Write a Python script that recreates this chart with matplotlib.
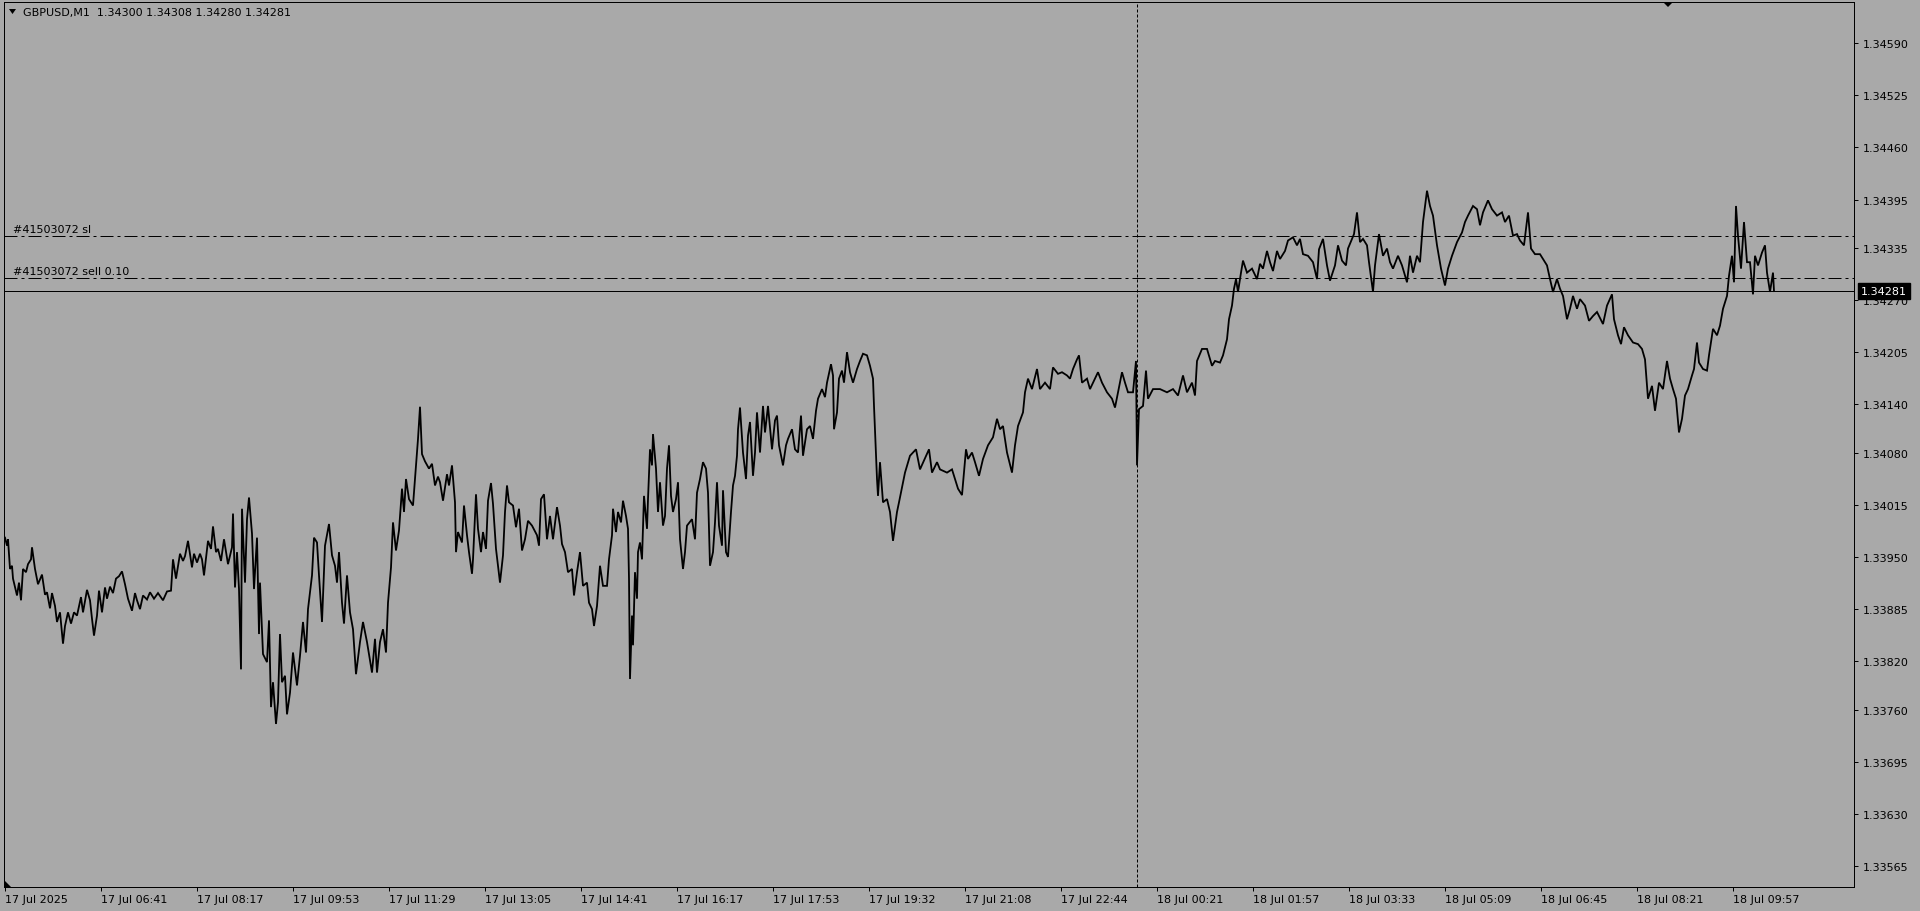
import matplotlib
matplotlib.use("Agg")
import matplotlib.pyplot as plt
from matplotlib.patches import Polygon

# ---------------- data (bar index = minutes of M1 bars from the first visible bar) ----------------
symbol = "GBPUSD,M1"
ohlc_text = ["1.34300", "1.34308", "1.34280", "1.34281"]
order_id = "#41503072"
sl_price = 1.34350
entry_price = 1.34297
last_price = 1.34281
day_separator_bar = 1132

time_tick_bars = [0, 96, 192, 288, 384, 480, 576, 672, 768, 864, 960, 1056,
                  1152, 1248, 1344, 1440, 1536, 1632, 1728]
time_tick_labels = ["17 Jul 2025", "17 Jul 06:41", "17 Jul 08:17", "17 Jul 09:53",
                    "17 Jul 11:29", "17 Jul 13:05", "17 Jul 14:41", "17 Jul 16:17",
                    "17 Jul 17:53", "17 Jul 19:32", "17 Jul 21:08", "17 Jul 22:44",
                    "18 Jul 00:21", "18 Jul 01:57", "18 Jul 03:33", "18 Jul 05:09",
                    "18 Jul 06:45", "18 Jul 08:21", "18 Jul 09:57"]
price_ticks = [1.34590, 1.34525, 1.34460, 1.34395, 1.34335, 1.34270, 1.34205,
               1.34140, 1.34080, 1.34015, 1.33950, 1.33885, 1.33820, 1.33760,
               1.33695, 1.33630, 1.33565]
price_tick_labels = ["%.5f" % p for p in price_ticks]

path_17jul_morning = [
    (0, 1.33974), (2, 1.33964), (3, 1.33972), (5, 1.33935), (7, 1.33939), (8, 1.33923),
    (12, 1.33902), (14, 1.33918), (16, 1.33896), (18, 1.33935), (21, 1.33931), (23, 1.33941),
    (26, 1.33947), (27, 1.33962), (30, 1.33935), (33, 1.33916), (37, 1.33928), (40, 1.33903),
    (42, 1.33906), (45, 1.33886), (47, 1.33905), (50, 1.33889), (52, 1.33869), (55, 1.33881),
    (58, 1.33842), (60, 1.33864), (63, 1.33881), (66, 1.33867), (69, 1.33881), (72, 1.33877),
    (76, 1.33900), (78, 1.33881), (82, 1.33909), (85, 1.33896), (87, 1.33873), (89, 1.33852),
    (92, 1.33877), (94, 1.33908), (97, 1.33881), (100, 1.33912), (102, 1.33898), (105, 1.33913),
    (108, 1.33905), (111, 1.33923), (114, 1.33926), (117, 1.33932), (120, 1.33916), (123, 1.33898),
    (127, 1.33883), (130, 1.33905), (132, 1.33896), (135, 1.33885), (138, 1.33902), (142, 1.33897),
    (145, 1.33906), (149, 1.33898), (153, 1.33905), (158, 1.33896), (162, 1.33907), (166, 1.33908),
    (168, 1.33947), (171, 1.33923), (175, 1.33954), (178, 1.33945), (180, 1.33951), (183, 1.33970),
    (187, 1.33937), (189, 1.33954), (192, 1.33943), (195, 1.33954), (197, 1.33947), (199, 1.33927),
    (203, 1.33970), (206, 1.33960), (208, 1.33988), (211, 1.33956), (213, 1.33960), (216, 1.33945),
    (219, 1.33972), (223, 1.33941), (227, 1.33962), (228, 1.34004), (230, 1.33912), (232, 1.33956),
    (234, 1.33910), (236, 1.33810), (237, 1.34010), (240, 1.33918), (242, 1.33997), (244, 1.34024),
    (247, 1.33979), (249, 1.33910), (252, 1.33974), (254, 1.33854), (255, 1.33918), (258, 1.33829),
    (262, 1.33819), (264, 1.33871), (266, 1.33763), (268, 1.33794), (271, 1.33742), (273, 1.33769),
    (275, 1.33854), (277, 1.33794), (280, 1.33802), (282, 1.33754), (285, 1.33781), (288, 1.33831),
    (292, 1.33790), (295, 1.33827), (298, 1.33869), (301, 1.33831), (303, 1.33885), (307, 1.33927),
    (309, 1.33974), (312, 1.33968), (314, 1.33927), (317, 1.33869), (320, 1.33964), (324, 1.33991),
    (327, 1.33952), (330, 1.33939), (332, 1.33918), (334, 1.33956), (337, 1.33893), (339, 1.33867),
    (342, 1.33927), (345, 1.33881), (348, 1.33860), (351, 1.33804), (355, 1.33844), (358, 1.33869),
    (362, 1.33844), (365, 1.33821), (367, 1.33806), (370, 1.33848), (372, 1.33806), (375, 1.33844),
    (378, 1.33860), (381, 1.33831), (383, 1.33893), (386, 1.33937), (388, 1.33993), (391, 1.33958),
    (394, 1.33983), (397, 1.34035), (399, 1.34006), (401, 1.34047), (404, 1.34022), (408, 1.34014),
    (413, 1.34097), (415, 1.34137), (417, 1.34078), (420, 1.34069), (424, 1.34060), (427, 1.34066),
    (430, 1.34039), (433, 1.34050),
]

path_17jul_midday = [
    (435, 1.34043), (438, 1.34020), (442, 1.34053), (444, 1.34039), (447, 1.34064), (450, 1.34018),
    (451, 1.33956), (453, 1.33981), (457, 1.33968), (459, 1.34014), (462, 1.33977), (464, 1.33956),
    (467, 1.33929), (468, 1.33947), (471, 1.34028), (473, 1.33985), (476, 1.33956), (478, 1.33981),
    (481, 1.33960), (483, 1.34020), (486, 1.34042), (488, 1.34016), (491, 1.33960), (493, 1.33939),
    (495, 1.33918), (498, 1.33952), (500, 1.34006), (502, 1.34039), (504, 1.34018), (508, 1.34014),
    (511, 1.33987), (514, 1.34010), (517, 1.33958), (520, 1.33972), (523, 1.33995), (527, 1.33989),
    (532, 1.33977), (534, 1.33964), (536, 1.34022), (539, 1.34028), (542, 1.33972), (545, 1.34001),
    (548, 1.33972), (552, 1.34012), (555, 1.33989), (557, 1.33966), (560, 1.33956), (563, 1.33931),
    (567, 1.33935), (569, 1.33902), (572, 1.33931), (575, 1.33956), (578, 1.33914), (582, 1.33918),
    (584, 1.33893), (587, 1.33885), (589, 1.33864), (592, 1.33889), (595, 1.33939), (598, 1.33914),
    (602, 1.33914), (604, 1.33947), (607, 1.33977), (608, 1.34010), (611, 1.33981), (613, 1.34006),
    (616, 1.33993), (618, 1.34020), (621, 1.34001), (623, 1.33985), (624, 1.33923), (625, 1.33798),
    (627, 1.33877), (628, 1.33840), (630, 1.33931), (632, 1.33898), (633, 1.33956), (635, 1.33968),
    (637, 1.33947), (639, 1.34026), (642, 1.33985), (643, 1.34022), (645, 1.34084), (647, 1.34064),
    (648, 1.34103), (651, 1.34060), (653, 1.34006), (655, 1.34043), (658, 1.33989), (660, 1.34001),
    (662, 1.34060), (664, 1.34089), (666, 1.34026), (668, 1.34006), (671, 1.34022), (673, 1.34043),
    (675, 1.33972), (678, 1.33935), (680, 1.33956), (682, 1.33989), (687, 1.33997), (690, 1.33972),
    (692, 1.34030), (695, 1.34047), (698, 1.34068), (701, 1.34060), (703, 1.34030), (705, 1.33939),
    (708, 1.33956), (710, 1.33993), (712, 1.34043), (714, 1.33989), (717, 1.33964), (718, 1.34033),
    (721, 1.33956), (723, 1.33950), (726, 1.34006), (728, 1.34039), (730, 1.34051), (732, 1.34076),
    (733, 1.34109), (735, 1.34136), (738, 1.34080), (741, 1.34047), (743, 1.34101), (745, 1.34118),
    (748, 1.34051), (750, 1.34080), (752, 1.34130), (755, 1.34080), (758, 1.34138), (760, 1.34105),
    (763, 1.34138), (767, 1.34084), (770, 1.34120), (772, 1.34126), (774, 1.34089), (778, 1.34064),
    (781, 1.34089), (783, 1.34097), (787, 1.34109), (790, 1.34084), (793, 1.34080), (796, 1.34126),
    (798, 1.34076), (802, 1.34109), (805, 1.34113), (808, 1.34097), (811, 1.34132), (813, 1.34147),
    (817, 1.34159), (820, 1.34149), (822, 1.34167), (826, 1.34190), (828, 1.34176), (829, 1.34109),
    (832, 1.34130), (834, 1.34172), (837, 1.34182), (839, 1.34167), (842, 1.34205), (845, 1.34180),
    (848, 1.34167), (852, 1.34184), (855, 1.34194), (858, 1.34203), (862, 1.34201), (865, 1.34188),
    (868, 1.34172), (869, 1.34138), (872, 1.34047), (873, 1.34026), (875, 1.34068), (878, 1.34018),
    (882, 1.34022), (885, 1.34006), (888, 1.33970), (892, 1.34006),
]

path_17jul_evening = [
    (894, 1.34018), (900, 1.34055), (905, 1.34076), (911, 1.34084), (915, 1.34059), (924, 1.34084),
    (927, 1.34055), (932, 1.34068), (935, 1.34059), (942, 1.34055), (947, 1.34059), (949, 1.34051),
    (953, 1.34035), (957, 1.34027), (961, 1.34084), (963, 1.34072), (967, 1.34080), (970, 1.34068),
    (974, 1.34051), (978, 1.34072), (983, 1.34089), (988, 1.34099), (992, 1.34122), (995, 1.34109),
    (998, 1.34113), (1002, 1.34080), (1007, 1.34055), (1010, 1.34089), (1013, 1.34113), (1018, 1.34130),
    (1020, 1.34155), (1023, 1.34172), (1027, 1.34159), (1032, 1.34184), (1035, 1.34159), (1040, 1.34167),
    (1045, 1.34159), (1048, 1.34186), (1053, 1.34178), (1057, 1.34180), (1062, 1.34176), (1065, 1.34172),
    (1068, 1.34184), (1072, 1.34196), (1074, 1.34201), (1077, 1.34167), (1082, 1.34172), (1085, 1.34159),
    (1090, 1.34172), (1093, 1.34180), (1097, 1.34167), (1102, 1.34155), (1107, 1.34147), (1110, 1.34136),
    (1113, 1.34155), (1117, 1.34180), (1120, 1.34167), (1123, 1.34155), (1128, 1.34155), (1131, 1.34194),
    (1132, 1.34064), (1134, 1.34134), (1138, 1.34138), (1141, 1.34182), (1143, 1.34147), (1148, 1.34159),
    (1155, 1.34159), (1162, 1.34155), (1168, 1.34159), (1173, 1.34151), (1178, 1.34176), (1182, 1.34155),
    (1187, 1.34167), (1190, 1.34151), (1192, 1.34194), (1197, 1.34209), (1202, 1.34209), (1207, 1.34188),
    (1210, 1.34194), (1215, 1.34192), (1218, 1.34201), (1222, 1.34221), (1224, 1.34246), (1227, 1.34263),
    (1229, 1.34284), (1231, 1.34296), (1233, 1.34280), (1236, 1.34304), (1238, 1.34319), (1242, 1.34304),
    (1247, 1.34309), (1252, 1.34296), (1255, 1.34315), (1258, 1.34309), (1262, 1.34331), (1265, 1.34317),
    (1268, 1.34306), (1272, 1.34331), (1275, 1.34321), (1280, 1.34331), (1283, 1.34344), (1288, 1.34348),
    (1292, 1.34338), (1295, 1.34346), (1298, 1.34327), (1303, 1.34325), (1308, 1.34317), (1312, 1.34296),
    (1314, 1.34333), (1318, 1.34346), (1322, 1.34313), (1325, 1.34294),
]

path_18jul = [
    (1330, 1.34313), (1333, 1.34338), (1337, 1.34319), (1341, 1.34313), (1343, 1.34334), (1347, 1.34346),
    (1349, 1.34352), (1352, 1.34379), (1355, 1.34342), (1358, 1.34346), (1362, 1.34338), (1364, 1.34317),
    (1368, 1.34280), (1370, 1.34313), (1374, 1.34352), (1378, 1.34325), (1382, 1.34334), (1385, 1.34317),
    (1388, 1.34309), (1393, 1.34325), (1397, 1.34313), (1402, 1.34292), (1405, 1.34325), (1408, 1.34304),
    (1412, 1.34325), (1415, 1.34317), (1418, 1.34367), (1422, 1.34406), (1425, 1.34387), (1428, 1.34375),
    (1432, 1.34338), (1436, 1.34309), (1440, 1.34288), (1443, 1.34309), (1447, 1.34325), (1452, 1.34342),
    (1457, 1.34354), (1460, 1.34367), (1463, 1.34375), (1468, 1.34387), (1472, 1.34383), (1475, 1.34363),
    (1478, 1.34379), (1483, 1.34394), (1487, 1.34383), (1492, 1.34375), (1497, 1.34379), (1500, 1.34367),
    (1504, 1.34375), (1508, 1.34350), (1512, 1.34352), (1515, 1.34344), (1519, 1.34338), (1523, 1.34379),
    (1526, 1.34334), (1530, 1.34327), (1535, 1.34327), (1538, 1.34321), (1542, 1.34313), (1545, 1.34296),
    (1548, 1.34280), (1552, 1.34296), (1555, 1.34284), (1558, 1.34275), (1562, 1.34246), (1565, 1.34259),
    (1568, 1.34275), (1572, 1.34259), (1575, 1.34271), (1580, 1.34263), (1584, 1.34244), (1588, 1.34250),
    (1592, 1.34255), (1598, 1.34240), (1602, 1.34263), (1607, 1.34277), (1609, 1.34246), (1613, 1.34226),
    (1616, 1.34215), (1619, 1.34236), (1623, 1.34226), (1628, 1.34217), (1633, 1.34215), (1637, 1.34209),
    (1640, 1.34196), (1643, 1.34147), (1647, 1.34163), (1650, 1.34132), (1654, 1.34167), (1658, 1.34159),
    (1662, 1.34194), (1665, 1.34172), (1668, 1.34159), (1671, 1.34147), (1674, 1.34105), (1677, 1.34122),
    (1680, 1.34151), (1683, 1.34159), (1687, 1.34176), (1689, 1.34184), (1692, 1.34217), (1694, 1.34192),
    (1698, 1.34184), (1702, 1.34182), (1704, 1.34201), (1708, 1.34234), (1712, 1.34226), (1715, 1.34238),
    (1718, 1.34259), (1722, 1.34275), (1724, 1.34300), (1727, 1.34325), (1729, 1.34292), (1731, 1.34387),
    (1733, 1.34350), (1736, 1.34309), (1739, 1.34367), (1742, 1.34317), (1745, 1.34317), (1748, 1.34277),
    (1750, 1.34325), (1753, 1.34313), (1757, 1.34329), (1760, 1.34338), (1762, 1.34304), (1765, 1.34280),
    (1768, 1.34304), (1769, 1.34281),
]

# ---------------- figure ----------------
BG = "#a9a9a9"
W, H = 1920, 912
fig = plt.figure(figsize=(W / 100, H / 100), dpi=100, facecolor=BG)
ax_l, ax_r, ax_t, ax_b = 4, 1854, 3, 888
ax = fig.add_axes([ax_l / W, (H - ax_b) / H, (ax_r - ax_l) / W, (ax_b - ax_t) / H])
ax.set_facecolor(BG)
plt.rcParams["font.family"] = ["DejaVu Sans"]
FS = 8

all_path = path_17jul_morning + path_17jul_midday + path_17jul_evening + path_18jul
bars = [b for b, _ in all_path]
prices = [p for _, p in all_path]

ax.plot(bars, prices, color="black", lw=1.3, solid_joinstyle="miter", zorder=3)

ax.set_xlim(-1, 1849)
ax.set_ylim(1.33539, 1.34641)

# order lines
px = 0.72  # 1 pixel in points
ax.axhline(sl_price, color="black", lw=px, linestyle=(0, (13, 4, 3, 4)), zorder=2)
ax.axhline(entry_price, color="black", lw=px, linestyle=(0, (13, 4, 3, 4)), zorder=2)
ax.axhline(last_price, color="black", lw=px, zorder=2)
ax.axvline(day_separator_bar, color="black", lw=px, linestyle=(0, (3, 2)), zorder=2)

yt = ax.get_yaxis_transform()
ax.annotate(f"{order_id} sl", xy=(0, sl_price), xycoords=yt, xytext=(9, 2),
            textcoords="offset pixels", ha="left", va="bottom", fontsize=FS, color="black")
ax.annotate(f"{order_id} sell 0.10", xy=(0, entry_price), xycoords=yt, xytext=(9, 2),
            textcoords="offset pixels", ha="left", va="bottom", fontsize=FS, color="black")

# header
ax.annotate(symbol + "  " + " ".join(ohlc_text), xy=(0, 1), xycoords="axes fraction",
            xytext=(19, -10), textcoords="offset pixels", ha="left", va="center",
            fontsize=FS, color="black")
aw, ah = ax_r - ax_l, ax_b - ax_t
tri = Polygon([(5 / aw, 1 - 7 / ah), (12 / aw, 1 - 7 / ah), (8.5 / aw, 1 - 12 / ah)],
              closed=True, transform=ax.transAxes, fc="black", ec="none", clip_on=False)
ax.add_patch(tri)
# shift marker at top and corner marker at bottom-left
sx = (1668 - ax_l) / aw
shift = Polygon([(sx - 5 / aw, 1), (sx + 5 / aw, 1), (sx, 1 - 5 / ah)], closed=True,
                transform=ax.transAxes, fc="black", ec="none", clip_on=False)
ax.add_patch(shift)
corner = Polygon([(0, 0), (7 / aw, 0), (0, 7 / ah)], closed=True,
                 transform=ax.transAxes, fc="black", ec="none", clip_on=False)
ax.add_patch(corner)

# axes styling
for s in ax.spines.values():
    s.set_color("black")
    s.set_linewidth(px)

ax.yaxis.tick_right()
ax.set_yticks(price_ticks)
ax.set_yticklabels(price_tick_labels)
ax.tick_params(axis="y", direction="out", length=3, width=px, pad=3,
               labelsize=FS, colors="black", left=False)
ax.set_xticks(time_tick_bars)
ax.set_xticklabels(time_tick_labels)
ax.tick_params(axis="x", direction="out", length=3, width=px, pad=2,
               labelsize=FS, colors="black")
for lab in ax.get_xticklabels():
    lab.set_horizontalalignment("left")

# current price box
ax.annotate("%.5f" % last_price, xy=(1, last_price), xycoords=yt, xytext=(7, 0),
            textcoords="offset pixels", ha="left", va="center", fontsize=FS, color="white",
            bbox=dict(boxstyle="square,pad=0.25", fc="black", ec="black"),
            annotation_clip=False, zorder=10)

fig.savefig("out.png", dpi=100, facecolor=BG)
